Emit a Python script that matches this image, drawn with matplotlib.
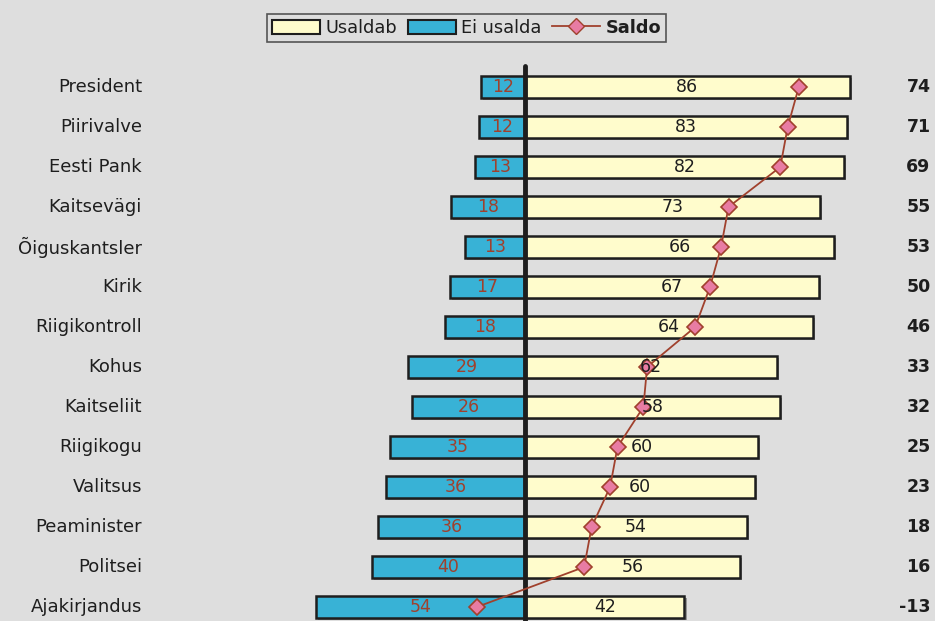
import matplotlib.pyplot as plt
from matplotlib.patches import Patch
from matplotlib.lines import Line2D
import matplotlib.patheffects as pe

# institutions, top to bottom
categories = ["President", "Piirivalve", "Eesti Pank", "Kaitsevägi", "Õiguskantsler",
              "Kirik", "Riigikontroll", "Kohus", "Kaitseliit", "Riigikogu",
              "Valitsus", "Peaminister", "Politsei", "Ajakirjandus"]

# printed labels
trust_labels = [86, 83, 82, 73, 66, 67, 64, 62, 58, 60, 60, 54, 56, 42]
distrust_labels = [12, 12, 13, 18, 13, 17, 18, 29, 26, 35, 36, 36, 40, 54]
saldo = [74, 71, 69, 55, 53, 50, 46, 33, 32, 25, 23, 18, 16, -13]

# bar lengths as drawn in the picture (they don't match the printed labels exactly)
trust_bar = [87.8, 87.0, 86.2, 79.7, 83.5, 79.5, 77.8, 68.0, 68.9, 63.0, 62.2, 60.0, 58.2, 43.1]
distrust_bar = [11.9, 12.4, 13.5, 20.0, 16.2, 20.3, 21.6, 31.6, 30.5, 36.5, 37.6, 39.7, 41.4, 56.5]

bg = "#dedede"
yellow = "#fffccc"
blue = "#38b2d6"
red = "#a0412d"
pink = "#e87ca3"
ink = "#1e1e1e"

fig = plt.figure(figsize=(9.35, 6.21), dpi=100, facecolor=bg)
ax = fig.add_axes([0, 0, 1, 1])
ax.set_facecolor(bg)
ax.axis("off")

# 3.7 px per percent, zero at x=525 px; rows 40 px apart starting at y=87 px
ax.set_xlim(-525 / 3.7, (935 - 525) / 3.7)
ax.set_ylim((621 - 87) / 40, -87 / 40)

y = list(range(len(categories)))
shadow = [pe.SimplePatchShadow(offset=(1.5, -1.5), shadow_rgbFace="#777777", alpha=0.7), pe.Normal()]

ax.barh(y, trust_bar, height=0.55, color=yellow, edgecolor=ink, linewidth=1.8,
        path_effects=shadow, zorder=2)
ax.barh(y, [-v for v in distrust_bar], height=0.55, color=blue, edgecolor=ink,
        linewidth=1.8, path_effects=shadow, zorder=2)

# zero axis
ax.plot([0, 0], [-0.52, len(categories)], color=ink, linewidth=3.5,
        solid_capstyle="round", zorder=3)

ax.plot(saldo, y, color=red, linewidth=1.3, marker="D", markersize=8,
        markerfacecolor=pink, markeredgecolor=red, markeredgewidth=1.2, zorder=4)

for i in y:
    ax.text(-103.5, i, categories[i], ha="right", va="center", fontsize=13, color=ink)
    ax.text(trust_bar[i] / 2, i, str(trust_labels[i]), ha="center", va="center",
            fontsize=12.5, color=ink, zorder=5)
    ax.text(-distrust_bar[i] / 2, i, str(distrust_labels[i]), ha="center", va="center",
            fontsize=12.5, color=red, zorder=5)
    ax.text(109.6, i, str(saldo[i]), ha="right", va="center", fontsize=12.5,
            fontweight="bold", color=ink)

handles = [Patch(facecolor=yellow, edgecolor=ink, linewidth=1.5),
           Patch(facecolor=blue, edgecolor=ink, linewidth=1.5),
           Line2D([], [], color=red, linewidth=1.3, marker="D", markersize=8,
                  markerfacecolor=pink, markeredgecolor=red)]
leg = fig.legend(handles, ["Usaldab", "Ei usalda", "Saldo"], loc="center",
                 bbox_to_anchor=(0.499, 0.955), ncol=3, fontsize=12.8, frameon=True,
                 fancybox=False, edgecolor="#555555", facecolor=bg, framealpha=1,
                 handlelength=2.7, handleheight=0.8, handletextpad=0.3, columnspacing=0.6,
                 borderpad=0.3)
leg.get_frame().set_linewidth(1.2)
for t in leg.get_texts():
    t.set_color(ink)
leg.get_texts()[2].set_fontweight("bold")

fig.savefig("out.png", dpi=100, facecolor=bg)
